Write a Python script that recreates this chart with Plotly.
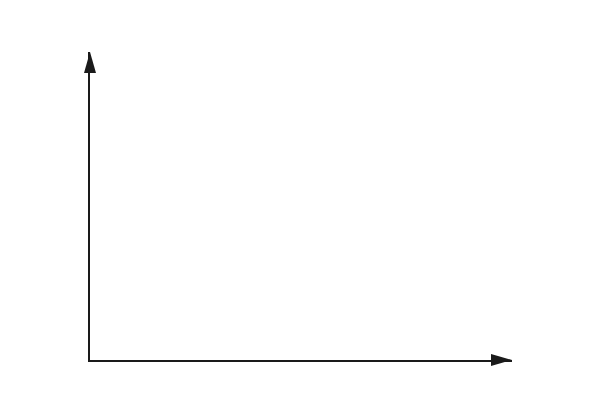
import plotly.graph_objects as go

# empty axes chart: no series, just two arrowed axes
x_values = []
y_values = []
x_range = [0, 1]
y_range = [0, 1]

AXIS_COLOR = "#1a1a1a"

fig = go.Figure()
fig.add_trace(go.Scatter(x=x_values, y=y_values, mode="markers", showlegend=False))

axis_style = dict(
    showline=True, linecolor=AXIS_COLOR, linewidth=2,
    showgrid=False, zeroline=False, showticklabels=False, ticks="",
)
fig.update_xaxes(range=x_range, **axis_style)
fig.update_yaxes(range=y_range, **axis_style)

# arrowheads sized in pixels, anchored at the ends of the plot area
# (paper refs so they are not clipped by the plot area)
arrow = dict(type="path", xref="paper", yref="paper",
             xsizemode="pixel", ysizemode="pixel",
             fillcolor=AXIS_COLOR, line=dict(width=0), layer="above")
fig.add_shape(xanchor=1, yanchor=0, path="M -21,-6 L 0,0 L -21,6 Z", **arrow)
fig.add_shape(xanchor=0, yanchor=1, path="M -6,-21 L 0,0 L 6,-21 Z", **arrow)

# page body adds an 8px offset, so the figure is a bit smaller than the window
fig.update_layout(
    width=588, height=397,
    margin=dict(l=82, r=84, t=44, b=45),
    paper_bgcolor="white", plot_bgcolor="white",
    showlegend=False,
)

fig.write_html("out.html")
